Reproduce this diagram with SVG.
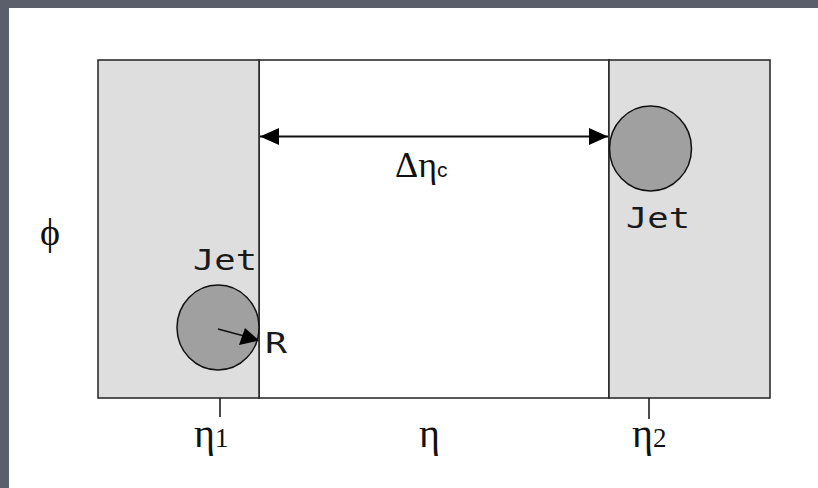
<svg xmlns="http://www.w3.org/2000/svg" width="818" height="488" viewBox="0 0 818 488">
<defs>
<marker id="ah" viewBox="0 0 19 17" refX="19" refY="8.5" markerWidth="19" markerHeight="17" markerUnits="userSpaceOnUse" orient="auto-start-reverse">
<path d="M0,0 L19,8.5 L0,17 z" fill="#000"/>
</marker>
<style>
.band{fill:#dedede;stroke:#222;stroke-width:1.5}
.mid{fill:#fff;stroke:#222;stroke-width:1.5}
.jet{fill:#a0a0a0;stroke:#111;stroke-width:1.5}
.mono{font-family:"DejaVu Sans Mono","Liberation Mono",monospace;font-size:29px;fill:#1a1a1a}
.ser{font-family:"Liberation Serif","DejaVu Serif",serif;fill:#111}
.line{stroke:#111;stroke-width:1.5;fill:none}
</style>
</defs>
<rect x="0" y="0" width="818" height="488" fill="#5b5f6c"/>
<rect x="9" y="8" width="809" height="480" fill="#fff"/>
<g id="plane">
<rect class="mid" x="259" y="60" width="350" height="338"/>
</g>
<g id="band-left">
<rect class="band" x="98" y="60" width="161" height="338"/>
</g>
<g id="band-right">
<rect class="band" x="609" y="60" width="161" height="338"/>
</g>
<g id="jet-left">
<ellipse class="jet" cx="218" cy="327.5" rx="41" ry="42.5"/>
<text class="mono" x="193" y="270" textLength="64" lengthAdjust="spacingAndGlyphs">Jet</text>
</g>
<g id="jet-right">
<ellipse class="jet" cx="650.5" cy="148.5" rx="41" ry="42.5"/>
<text class="mono" x="626" y="228" textLength="64" lengthAdjust="spacingAndGlyphs">Jet</text>
</g>
<g id="connectors">
<line class="line" x1="260" y1="136.5" x2="608" y2="136.5" marker-start="url(#ah)" marker-end="url(#ah)" style="stroke-width:2"/>
<path d="M218,329 L246,336.5" class="line"/>
<path d="M259,340.5 L239,345 L245,328 z" fill="#000"/>
<line class="line" x1="220" y1="398" x2="220" y2="417"/>
<line class="line" x1="649" y1="398" x2="649" y2="419"/>
</g>
<g id="labels">
<text class="mono" x="265" y="353" textLength="22" lengthAdjust="spacingAndGlyphs">R</text>
<text class="ser" x="395" y="177" font-size="36">Δη<tspan font-family="Liberation Sans, sans-serif" font-size="21">c</tspan></text>
<text class="ser" x="40" y="245" font-size="38">ϕ</text>
<text class="ser" x="194" y="447" font-size="40">η<tspan font-size="27">1</tspan></text>
<text class="ser" x="419" y="447" font-size="40">η</text>
<text class="ser" x="632" y="447" font-size="40">η<tspan font-size="27">2</tspan></text>
</g>
</svg>
